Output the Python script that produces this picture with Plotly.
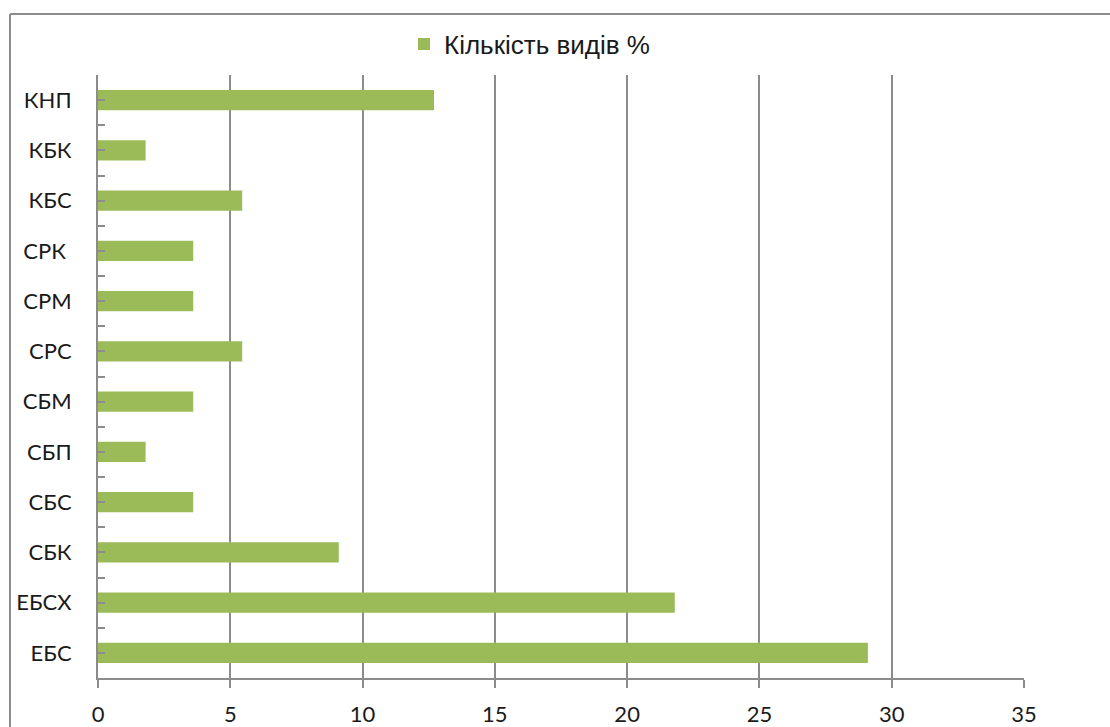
import plotly.graph_objects as go

categories = ["ЕБС", "ЕБСХ", "СБК", "СБС", "СБП", "СБМ", "СРС", "СРМ", "СРК\u00a0", "КБС", "КБК", "КНП"]
values = [29.1, 21.8, 9.1, 3.6, 1.8, 3.6, 5.45, 3.6, 3.6, 5.45, 1.8, 12.7]
series_name = "Кількість видів %"
x_ticks = [0, 5, 10, 15, 20, 25, 30, 35]

GREEN = "#9BBB59"
GREY = "#8C8C8C"
TXT = "#1a1a1a"
TICKFONT = dict(family="Lato, Carlito, sans-serif", size=22, color=TXT)

W, H = 1110, 727
L, R, T, B = 98, 86, 75, 49
pw, ph = W - L - R, H - T - B

def px_x(p):
    return (p - L) / pw

def px_y(p):
    return (H - B - p) / ph

fig = go.Figure()
fig.add_trace(go.Bar(
    x=values, y=categories, orientation="h",
    marker=dict(color=GREEN, line=dict(width=0)),
    name=series_name, showlegend=True, hoverinfo="x+y",
))
# invisible helper trace on an overlaid axis to draw the tick marks at category centres
fig.add_trace(go.Scatter(
    x=values, y=categories, yaxis="y2", mode="markers",
    marker=dict(opacity=0), showlegend=False, hoverinfo="skip",
))

fig.update_layout(
    width=W, height=H,
    margin=dict(l=L, r=R, t=T, b=B, pad=0, autoexpand=False),
    paper_bgcolor="white", plot_bgcolor="white",
    bargap=0.6,
    showlegend=True,
    legend=dict(
        x=px_x(404), y=px_y(44), xanchor="left", yanchor="middle",
        orientation="h",
        font=dict(family="Liberation Sans, Arial", size=26, color=TXT),
        bgcolor="rgba(0,0,0,0)",
    ),
    xaxis=dict(
        range=[0, 35], tickvals=x_ticks, ticktext=[str(v) for v in x_ticks],
        showgrid=True, gridcolor=GREY, gridwidth=2,
        showline=True, linecolor=GREY, linewidth=2,
        ticks="outside", ticklen=8, tickcolor=GREY, tickwidth=2,
        ticklabelstandoff=8,
        zeroline=False, automargin=False,
        tickfont=TICKFONT,
        fixedrange=True,
    ),
    yaxis=dict(
        type="category", categoryorder="array", categoryarray=categories,
        range=[-0.5, len(categories) - 0.5],
        showgrid=False,
        showline=True, linecolor=GREY, linewidth=2,
        ticks="inside", ticklen=7, tickcolor=GREY, tickwidth=2,
        tickson="boundaries",
        ticklabelstandoff=20, automargin=False,
        tickfont=TICKFONT,
        fixedrange=True,
    ),
    yaxis2=dict(
        type="category", categoryorder="array", categoryarray=categories,
        range=[-0.5, len(categories) - 0.5],
        overlaying="y", side="left", anchor="x",
        showgrid=False, showline=False, zeroline=False,
        ticks="inside", ticklen=7, tickcolor=GREY, tickwidth=2,
        tickson="labels", showticklabels=False, automargin=False,
        fixedrange=True,
    ),
    shapes=[
        dict(type="line", xref="paper", yref="paper",
             x0=px_x(10), x1=px_x(1115), y0=px_y(14), y1=px_y(14),
             line=dict(color=GREY, width=2)),
        dict(type="line", xref="paper", yref="paper",
             x0=px_x(10), x1=px_x(10), y0=px_y(14), y1=px_y(735),
             line=dict(color=GREY, width=2)),
    ],
)

fig.write_html("out.html")
